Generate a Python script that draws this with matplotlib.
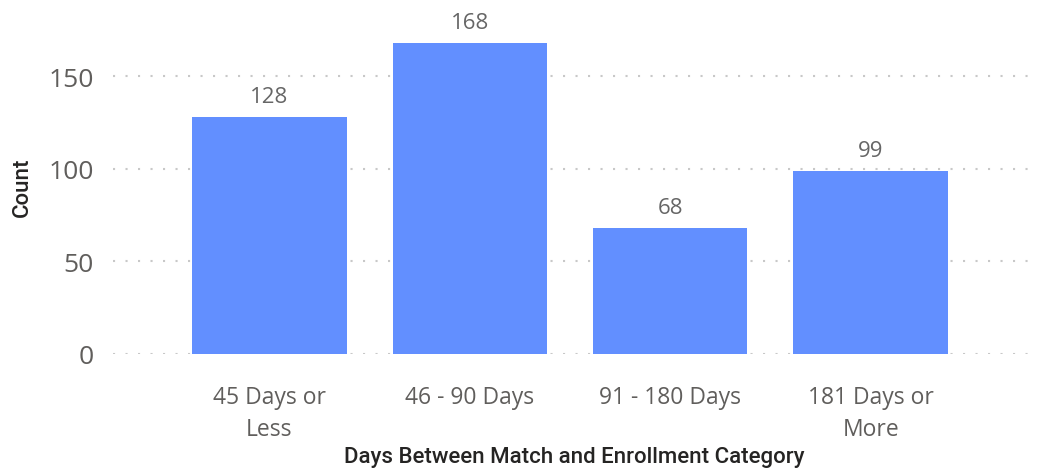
import matplotlib
matplotlib.use("Agg")
from matplotlib import pyplot as plt

categories = ["45 Days or\nLess", "46 - 90 Days", "91 - 180 Days", "181 Days or\nMore"]
counts = [128, 168, 68, 99]
yticks = [0, 50, 100, 150]

fig = plt.figure(figsize=(10.43, 4.77), dpi=100)
ax = fig.add_axes([113 / 1043, 1 - 355 / 477, (1035 - 113) / 1043, (355 - 20) / 477])

x = list(range(len(categories)))
bars = ax.bar(x, counts, width=0.77, color="#628fff", zorder=2)

for xi, v in zip(x, counts):
    ax.annotate(str(v), (xi, v), xytext=(0, 7), textcoords="offset points",
                ha="center", va="bottom", fontsize=16, color="#666666",
                family="Open Sans")

ax.set_xlim(-0.78, 3.82)
ax.set_ylim(0, 180.8)
ax.set_yticks(yticks)
ax.set_xticks(x)
ax.set_xticklabels(categories, fontsize=16.5, color="#605e5c", family="Open Sans",
                   linespacing=1.45)
for lab in ax.get_yticklabels():
    lab.set_fontsize(19)
    lab.set_color("#605e5c")
    lab.set_family("Open Sans")

ax.tick_params(axis="both", length=0)
ax.tick_params(axis="y", pad=14)
ax.tick_params(axis="x", pad=22)
ax.grid(axis="y", color="#c8c8c8", linewidth=1.5, linestyle=(0, (1, 5)), zorder=0)
for s in ax.spines.values():
    s.set_visible(False)

ax.set_ylabel("Count", fontsize=16, color="#252423", family="Roboto",
              fontweight="medium", labelpad=11)
ax.set_xlabel("Days Between Match and Enrollment Category", fontsize=16,
              color="#252423", family="Roboto", fontweight="medium", labelpad=4)

fig.savefig("out.png", dpi=100)
